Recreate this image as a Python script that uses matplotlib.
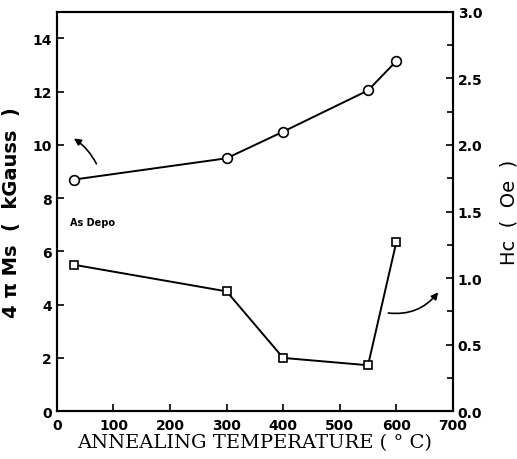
import matplotlib
matplotlib.use("Agg")
import matplotlib.pyplot as plt

# annealing temperature (C)
temp = [30, 300, 400, 550, 600]
# 4 pi Ms (kGauss), left axis
ms = [8.7, 9.5, 10.5, 12.05, 13.15]
# Hc (Oe), right axis
hc = [1.1, 0.9, 0.4, 0.345, 1.27]

fig = plt.figure(figsize=(5.17, 4.6), dpi=100)
ax = fig.add_axes([0.110, 0.104, 0.766, 0.868])
ax2 = ax.twinx()

ax.plot(temp, ms, '-o', color='black', lw=1.4, ms=7, mfc='white', mew=1.2)
ax2.plot(temp, hc, '-s', color='black', lw=1.4, ms=6, mfc='white', mew=1.2)

ax.set_xlim(0, 700)
ax.set_ylim(0, 15)
ax2.set_ylim(0, 3.0)
ax.set_xticks(range(0, 701, 100))
ax.set_yticks(range(0, 15, 2))
ax2.set_yticks([0.0, 0.5, 1.0, 1.5, 2.0, 2.5, 3.0])
ax2.set_yticks([0.25, 0.75, 1.25, 1.75, 2.25, 2.75], minor=True)

for a in (ax, ax2):
    a.tick_params(direction='in', length=5, width=1.2, labelsize=10)
    a.tick_params(which='minor', direction='in', length=4, width=1.2)
    for s in a.spines.values():
        s.set_linewidth(1.5)
    for lab in a.get_xticklabels() + a.get_yticklabels():
        lab.set_fontweight('bold')
ax.tick_params(axis='x', pad=5)

ax.set_xlabel('ANNEALING TEMPERATURE ( ° C)', family='DejaVu Serif',
              fontsize=14, labelpad=1)
ax.set_ylabel('4 π Ms  (  kGauss  )', fontsize=14, fontweight='bold', labelpad=8)
ax2.set_ylabel('Hc  (  Oe  )', fontsize=14, labelpad=12)

ax.text(23, 7.1, 'As Depo', fontsize=7, fontweight='bold', va='center')

# curved arrows pointing to each curve's axis
ax.annotate('', xy=(26, 10.3), xytext=(72, 9.2),
            arrowprops=dict(arrowstyle='-|>', color='black', lw=1.2,
                            connectionstyle='arc3,rad=0.15'))
ax.annotate('', xy=(677, 4.55), xytext=(581, 3.7),
            arrowprops=dict(arrowstyle='-|>', color='black', lw=1.2,
                            connectionstyle='arc3,rad=0.3'))

fig.savefig('out.png', dpi=100)
